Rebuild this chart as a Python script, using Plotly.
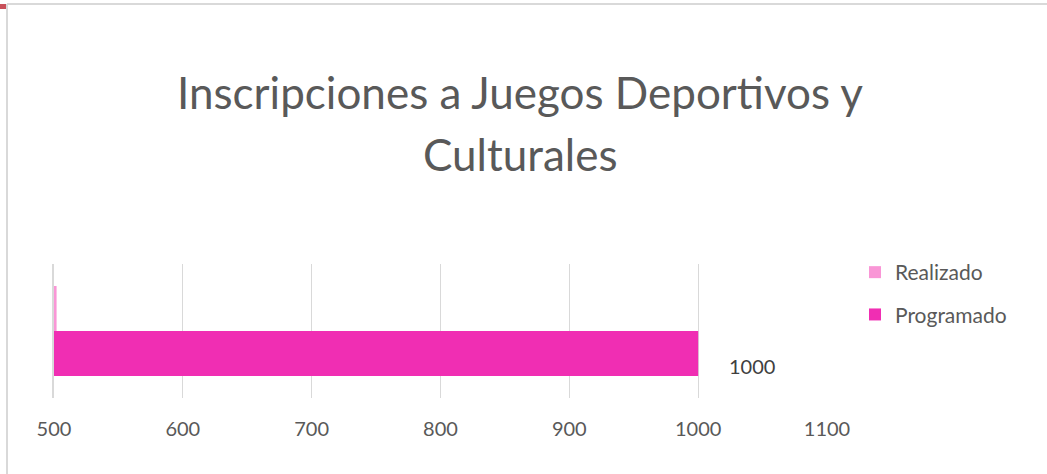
import plotly.graph_objects as go

# data
categorias = ["Inscripciones"]
programado = [1000]
realizado = [502]
titulo = ["Inscripciones a Juegos Deportivos y", "Culturales"]
colores = {"Programado": "#F02EB3", "Realizado": "#F996D6"}

W, H = 1047, 474
ml, mr, mt, mb = 54, 220, 264, 76
pw, ph = W - ml - mr, H - mt - mb


def px_x(x):  # screenshot pixel -> paper x
    return (x - ml) / pw


def px_y(y):  # screenshot pixel -> paper y
    return (H - mb - y) / ph


fig = go.Figure()
fig.add_trace(go.Bar(
    y=categorias, x=programado, orientation="h", name="Programado",
    legendgroup="p", legendrank=2,
    marker=dict(color=colores["Programado"], line=dict(width=0)),
))
fig.add_trace(go.Bar(
    y=categorias, x=realizado, orientation="h", name="Realizado",
    legendgroup="r", legendrank=1,
    marker=dict(color=colores["Realizado"], line=dict(width=0)),
))

# data label to the right of the Programado bar
fig.add_annotation(x=programado[0], y=categorias[0], text=str(programado[0]),
                   showarrow=False, xanchor="left", yanchor="middle",
                   xshift=29, yshift=-35, font=dict(size=20, color="#404040"))

# two-line title
for linea, ypix in zip(titulo, [92, 154]):
    fig.add_annotation(x=px_x(519.5), y=px_y(ypix), xref="paper", yref="paper",
                       text=linea, showarrow=False, xanchor="center", yanchor="middle",
                       font=dict(size=44, color="#595959"))

# outer frame of the cropped chart
fig.add_shape(type="line", xref="paper", yref="paper",
              x0=px_x(7), x1=px_x(1060), y0=px_y(4), y1=px_y(4),
              line=dict(color="#D9D9D9", width=2))
fig.add_shape(type="line", xref="paper", yref="paper",
              x0=px_x(7), x1=px_x(7), y0=px_y(4), y1=px_y(480),
              line=dict(color="#D9D9D9", width=2))
# small red tab in the top-left corner
fig.add_shape(type="rect", xref="paper", yref="paper",
              x0=px_x(0), x1=px_x(6), y0=px_y(4), y1=px_y(9),
              fillcolor="#C8505A", line=dict(width=0))

fig.update_layout(
    width=W, height=H,
    margin=dict(l=ml, r=mr, t=mt, b=mb, pad=0),
    paper_bgcolor="white", plot_bgcolor="white",
    font=dict(family="Lato, Open Sans, sans-serif", color="#595959"),
    barmode="group", bargap=0.33, bargroupgap=0,
    showlegend=True,
    legend=dict(x=px_x(855), y=px_y(252), xanchor="left", yanchor="top",
                traceorder="grouped", tracegroupgap=12,
                font=dict(size=21, color="#595959")),
    xaxis=dict(range=[500, 1100], dtick=100, tick0=500,
               showgrid=True, gridcolor="#D9D9D9", gridwidth=1,
               zeroline=False, showline=False, ticks="",
               tickfont=dict(size=20, color="#595959"), ticklabelstandoff=17),
    yaxis=dict(showticklabels=False, showgrid=False, zeroline=False,
               showline=True, linecolor="#D9D9D9", linewidth=2, ticks=""),
)

fig.write_html("out.html", config={"displayModeBar": False},
               post_script="document.body.style.margin='0';")
